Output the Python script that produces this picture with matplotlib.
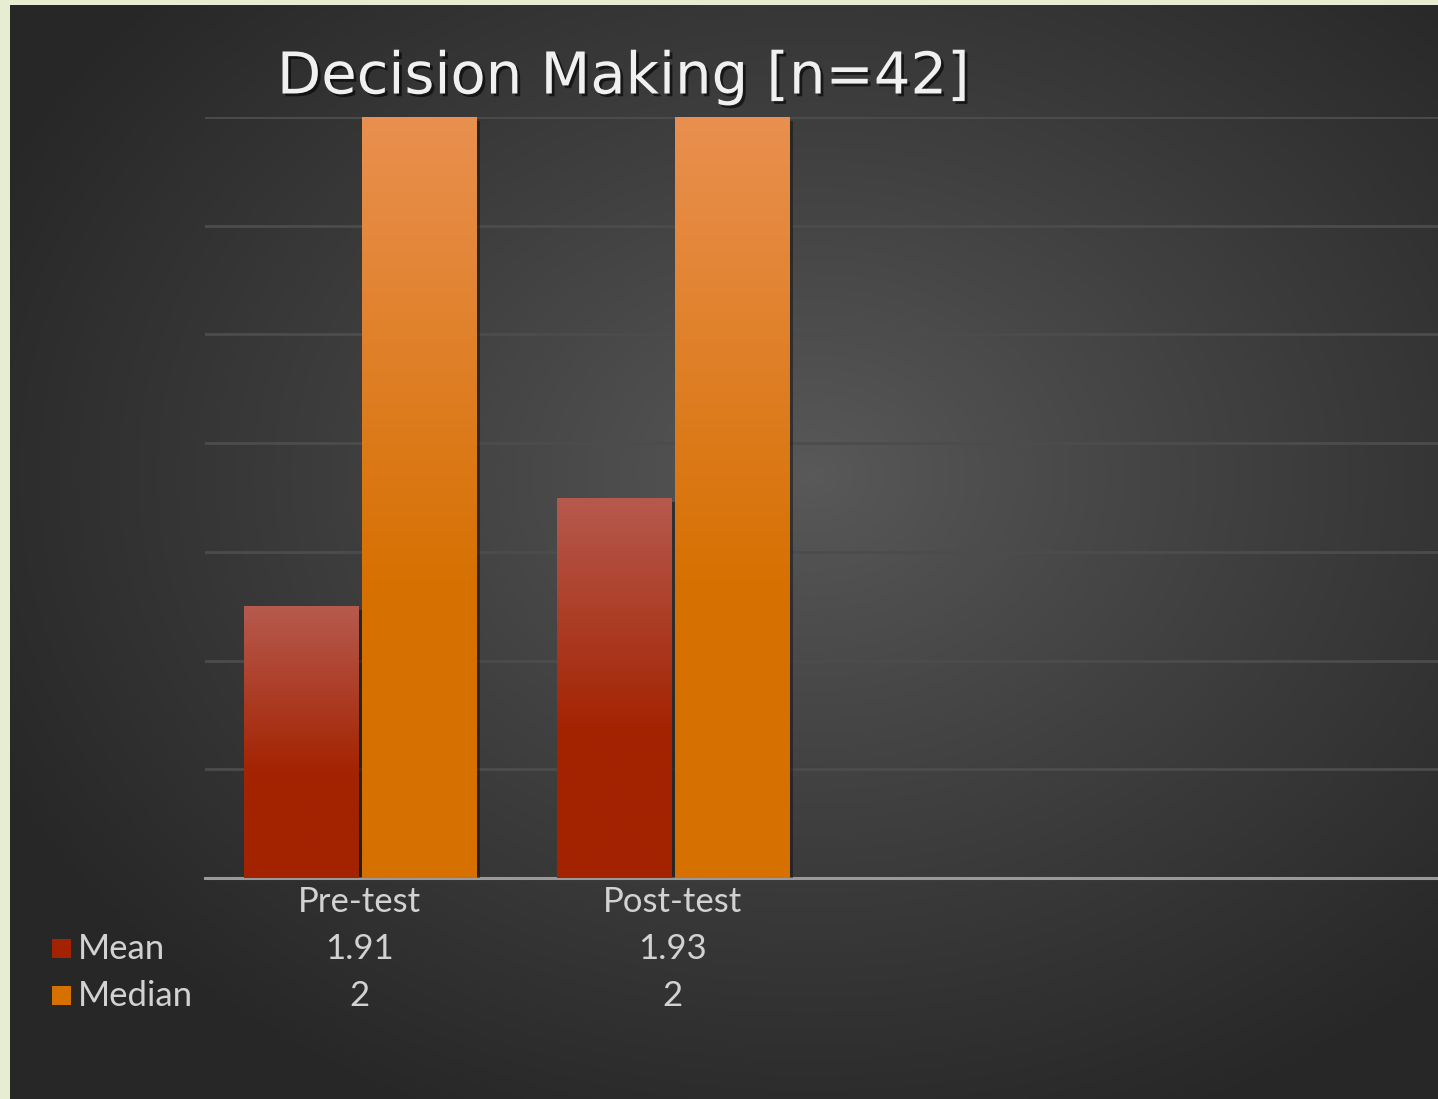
import numpy as np
import matplotlib
matplotlib.use("Agg")
from matplotlib import pyplot as plt
import matplotlib.patheffects as pe

categories = ["Pre-test", "Post-test"]
mean_vals = [1.91, 1.93]
median_vals = [2, 2]
series_names = ["Mean", "Median"]
title = "Decision Making [n=42]"

W, H = 1438, 1099
fig = plt.figure(figsize=(W / 100, H / 100), dpi=100)
fig.patch.set_facecolor("#e6edd3")

def fy(py):
    return 1 - py / H

# dark slide panel with radial gradient
bg = fig.add_axes([10 / W, 0, 1 - 10 / W, 1 - 5 / H])
bg.set_axis_off()
yy, xx = np.mgrid[0:1094, 0:1428]
d = np.sqrt(((xx - 800) / 900.0) ** 2 + ((yy - 470) / 700.0) ** 2)
d = np.clip(d, 0, 1)
lum = 0.35 - (0.35 - 0.155) * d ** 0.9
img = np.dstack([lum, lum, lum])
bg.imshow(img, extent=[0, 1, 0, 1], origin="upper", aspect="auto")
bg.set_xlim(0, 1)
bg.set_ylim(0, 1)

# chart area
ax = fig.add_axes([205 / W, (H - 878) / H, 1 - 205 / W, (878 - 117) / H])
ax.patch.set_alpha(0)
ax.set_yticks(np.arange(1.86, 2.001, 0.02))
ax.grid(axis="y", color="#4c4c4c", linewidth=2)
ax.set_axisbelow(True)
for s in ["top", "right", "left"]:
    ax.spines[s].set_visible(False)
ax.spines["bottom"].set_color("#9a9a9a")
ax.spines["bottom"].set_linewidth(2.2)
ax.tick_params(left=False, bottom=False, labelleft=False, labelbottom=False)

x = np.arange(len(categories))
width = 0.365
off = 0.1875
grads = [("#b65a4e", "#a32200"), ("#e99050", "#d67000")]
for vals, sign, (ctop, cbot) in zip([mean_vals, median_vals], [-1, 1], grads):
    bars = ax.bar(x + sign * off, vals, width, color=cbot, zorder=3,
                  path_effects=[pe.SimplePatchShadow(offset=(3, -3), shadow_rgbFace="#111111", alpha=0.5),
                                pe.Normal()])
    c1 = np.array(matplotlib.colors.to_rgb(ctop))
    c2 = np.array(matplotlib.colors.to_rgb(cbot))
    t = np.clip(np.linspace(0, 1, 256)[:, None] * 1.6, 0, 1)
    grad = (c1[None, :] * (1 - t) + c2[None, :] * t)[:, None, :]
    for b in bars:
        x0 = b.get_x()
        im = ax.imshow(grad, extent=[x0, x0 + b.get_width(), 1.86, b.get_height()],
                       origin="upper", aspect="auto", zorder=4)
        im.set_clip_path(b)
ax.set_xlim(-0.495, 3.444)
ax.set_ylim(1.86, 2.00)

# data table below axis
tfont = dict(family="Lato", color="#d2d2d2", fontsize=25)
for i, c in enumerate(categories):
    xf = (205 + (x[i] + 0.495) * 313) / W
    fig.text(xf, fy(902), c, ha="center", va="center", **tfont)
    fig.text(xf, fy(949), f"{mean_vals[i]:g}", ha="center", va="center", **tfont)
    fig.text(xf, fy(996), f"{median_vals[i]:g}", ha="center", va="center", **tfont)

for j, (name, (ctop, cbot)) in enumerate(zip(series_names, grads)):
    py = 949 + 47 * j
    fig.patches.append(plt.Rectangle((52 / W, fy(py + 9)), 19 / W, 19 / H,
                                     transform=fig.transFigure, facecolor=cbot,
                                     edgecolor="none"))
    fig.text(78 / W, fy(py), name, ha="left", va="center", **tfont)

fig.text(623 / W, fy(77), title, ha="center", va="center", fontsize=41.5,
         family="DejaVu Sans", color="#f0f0f0",
         path_effects=[pe.withSimplePatchShadow(offset=(2, -2), shadow_rgbFace="black", alpha=0.6)])

fig.savefig("out.png", dpi=100, facecolor=fig.get_facecolor())
